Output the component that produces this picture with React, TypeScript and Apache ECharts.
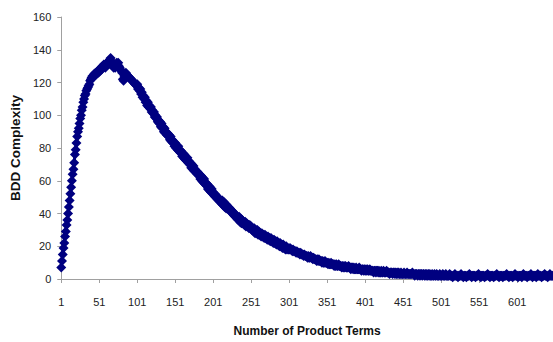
import React, { useEffect, useRef } from "react";
import * as echarts from "echarts";

// Number of product terms: 1 .. 648
const productTerms: string[] = Array.from({ length: 648 }, (_, i) => String(i + 1));

// BDD complexity, one value per product-term count
const bddComplexity: number[] = [
  7, 11, 15, 19, 22, 26, 29, 33, 36, 40,
  44, 48, 52, 56, 60, 64, 67, 71, 76, 79,
  83, 87, 90, 92, 95, 98, 100, 103, 105, 108,
  110, 112, 113, 115, 116, 117, 118, 119, 121, 122,
  123, 124, 123, 125, 124, 126, 125, 126, 127, 126,
  128, 127, 129, 128, 130, 129, 131, 130, 129, 131,
  132, 131, 133, 132, 134, 135, 133, 131, 130, 129,
  130, 129, 131, 132, 131, 132, 130, 129, 128, 127,
  126, 122, 121, 124, 125, 126, 125, 124, 124, 123,
  123, 122, 122, 121, 121, 120, 120, 119, 119, 118,
  119, 116, 117, 115, 116, 113, 114, 111, 112, 110,
  111, 108, 109, 106, 108, 105, 106, 104, 105, 102,
  103, 101, 102, 99, 100, 98, 99, 96, 97, 95,
  96, 93, 95, 92, 93, 90, 92, 89, 90, 88,
  89, 87, 88, 85, 87, 84, 85, 83, 84, 81,
  83, 80, 81, 79, 81, 78, 79, 77, 78, 75,
  77, 74, 76, 73, 74, 72, 74, 71, 72, 70,
  71, 68, 70, 67, 69, 66, 67, 65, 66, 64,
  65, 63, 64, 61, 63, 60, 62, 59, 61, 58,
  59, 57, 58, 55, 57, 54, 56, 53, 55, 52,
  53, 51, 52, 50, 51, 49, 50, 48, 49, 47,
  48, 46, 48, 45, 47, 44, 46, 43, 45, 43,
  44, 42, 43, 41, 42, 40, 41, 39, 40, 38,
  39, 37, 38, 36, 38, 35, 37, 34, 36, 34,
  35, 33, 35, 32, 34, 32, 33, 31, 33, 31,
  32, 30, 31, 29, 31, 28, 30, 28, 30, 27,
  29, 27, 28, 26, 28, 26, 27, 25, 27, 25,
  26, 24, 26, 24, 25, 23, 25, 23, 24, 22,
  24, 22, 23, 21, 23, 21, 22, 20, 22, 20,
  21, 19, 21, 19, 20, 18, 20, 18, 19, 18,
  18, 19, 18, 18, 17, 18, 17, 17, 17, 16,
  17, 16, 16, 16, 15, 16, 15, 15, 15, 14,
  15, 14, 14, 14, 13, 14, 13, 13, 14, 13,
  13, 12, 13, 12, 12, 12, 11, 12, 11, 12,
  11, 11, 11, 10, 11, 10, 10, 11, 10, 10,
  10, 9, 10, 9, 9, 10, 9, 9, 9, 8,
  9, 8, 9, 8, 8, 9, 8, 8, 8, 7,
  8, 7, 8, 7, 8, 7, 7, 7, 8, 7,
  7, 6, 7, 7, 6, 7, 6, 6, 7, 6,
  6, 6, 7, 6, 6, 5, 6, 6, 5, 6,
  5, 6, 5, 6, 5, 5, 6, 5, 5, 5,
  5, 4, 5, 5, 4, 5, 5, 4, 5, 4,
  4, 5, 4, 4, 5, 4, 4, 4, 5, 4,
  4, 4, 3, 4, 4, 4, 3, 4, 4, 3,
  4, 3, 4, 3, 4, 3, 3, 4, 3, 3,
  3, 4, 3, 3, 3, 4, 3, 3, 3, 3,
  3, 3, 4, 3, 3, 2, 3, 3, 3, 2,
  3, 3, 2, 3, 3, 2, 3, 3, 2, 3,
  2, 3, 2, 3, 2, 3, 2, 2, 3, 2,
  2, 3, 2, 2, 3, 2, 2, 2, 3, 2,
  2, 2, 3, 2, 2, 2, 3, 2, 2, 2,
  2, 3, 2, 2, 2, 1, 2, 2, 3, 2,
  2, 2, 1, 2, 2, 2, 3, 2, 2, 1,
  2, 2, 2, 1, 2, 2, 2, 3, 2, 2,
  1, 2, 2, 2, 2, 1, 2, 2, 2, 3,
  2, 2, 1, 2, 2, 2, 2, 1, 2, 2,
  2, 3, 2, 2, 1, 2, 2, 2, 2, 1,
  2, 2, 2, 3, 2, 2, 1, 2, 2, 2,
  2, 1, 2, 2, 2, 2, 3, 2, 2, 1,
  2, 2, 2, 2, 1, 2, 2, 3, 2, 2,
  2, 1, 2, 2, 2, 2, 1, 2, 3, 2,
  2, 2, 2, 1, 2, 2, 2, 2, 3, 2,
  1, 2, 2, 2, 2, 1, 2, 3, 2, 2,
  2, 2, 1, 2, 2, 2, 3, 2, 2, 2,
  1, 2, 2, 3, 2, 2, 2, 2,
];

const yMin = 0;
const yMax = 160;
const yStep = 20;

export default function App() {
  const ref = useRef<HTMLDivElement>(null);

  useEffect(() => {
    if (!ref.current) return;
    const chart = echarts.init(ref.current, undefined, { renderer: "svg" });
    const font = "'Liberation Sans', Arial, sans-serif";
    chart.setOption({
      animation: false,
      backgroundColor: "#ffffff",
      grid: { left: 60, right: 0, top: 17, bottom: 63, containLabel: false },
      xAxis: {
        type: "category",
        data: productTerms,
        boundaryGap: false,
        name: "Number of Product Terms",
        nameLocation: "middle",
        nameGap: 46,
        nameTextStyle: { fontFamily: font, fontSize: 12, fontWeight: "bold", color: "#111" },
        axisLine: { show: true, lineStyle: { color: "#a0a0a0", width: 1 } },
        axisTick: { show: true, interval: 49, length: 4, inside: false, lineStyle: { color: "#a0a0a0" } },
        axisLabel: { interval: 49, margin: 17, fontFamily: font, fontSize: 11, color: "#222" },
        splitLine: { show: false },
      },
      yAxis: {
        type: "value",
        min: yMin,
        max: yMax,
        interval: yStep,
        name: "BDD Complexity",
        nameLocation: "middle",
        nameGap: 32,
        nameRotate: 90,
        nameTextStyle: { fontFamily: font, fontSize: 13.5, fontWeight: "bold", color: "#111" },
        axisLine: { show: true, lineStyle: { color: "#a0a0a0", width: 1 } },
        axisTick: { show: true, length: 4, inside: false, lineStyle: { color: "#a0a0a0" } },
        axisLabel: { margin: 10, fontFamily: font, fontSize: 11, color: "#222" },
        splitLine: { show: false },
      },
      series: [
        {
          type: "line",
          data: bddComplexity,
          showAllSymbol: true,
          symbol: "diamond",
          symbolSize: 10,
          clip: false,
          itemStyle: { color: "#000080" },
          lineStyle: { color: "#000080", width: 3 },
        },
      ],
    });
    return () => chart.dispose();
  }, []);

  return (
    <div
      ref={ref}
      style={{ position: "fixed", left: 0, top: 0, width: 553, height: 342, background: "#fff" }}
    />
  );
}
